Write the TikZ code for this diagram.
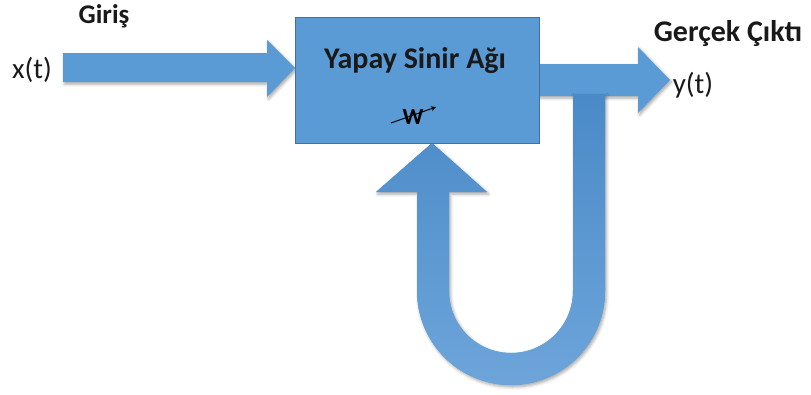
\documentclass[tikz,border=0pt]{standalone}
\usepackage{fontspec}
\setmainfont{Carlito}
\usetikzlibrary{shadows.blur,arrows.meta}
\definecolor{blockblue}{HTML}{5B9BD5}
\definecolor{blockedge}{HTML}{41719C}
\definecolor{loopdark}{HTML}{4A8AC8}
\definecolor{looplight}{HTML}{6DA5DA}
\tikzset{
  blockarrow/.style={fill=blockblue, draw=none,
    blur shadow={shadow xshift=1.5pt, shadow yshift=-2pt, shadow opacity=35, shadow blur radius=3pt}},
  netbox/.style={draw=blockedge, line width=0.8pt, fill=blockblue,
    minimum width=244pt, minimum height=126pt, inner sep=0pt},
  label/.style={font=\fontsize{27}{29}\selectfont\bfseries, text=black!90, inner sep=0pt},
  signal/.style={font=\fontsize{29}{31}\selectfont, text=black!90, inner sep=0pt}
}
\begin{document}
\begin{tikzpicture}[x=1pt, y=-1pt]
  \useasboundingbox (0,0) rectangle (811,394);

  % input arrow
  \fill[blockarrow] (63,53) -- (267,53) -- (267,40) -- (295,68) -- (267,97) -- (267,82) -- (63,82) -- cycle;

  % output arrow
  \fill[blockarrow] (530,64) -- (638,64) -- (638,47) -- (670,80) -- (638,113) -- (638,96) -- (530,96) -- cycle;

  % feedback loop arrow
  \fill[blockarrow, top color=loopdark, bottom color=looplight]
    (573,94) -- (573,291) arc[start angle=0, end angle=180, radius=62]
    -- (449,192) -- (487,192) -- (432,143) -- (376,192) -- (417,192)
    -- (417,291) arc[start angle=180, end angle=0, radius=94]
    -- (605,94) -- cycle;

  % network block
  \node[netbox] (net) at (417.5,80) {};
  \node[label, font=\fontsize{30}{32}\selectfont\bfseries] (title) at (415,61) {Yapay Sinir Ağı};
  % weight symbol: arrow behind the W
  \coordinate (wtail) at (391,123);
  \coordinate (whead) at (436,107);
  \draw[line width=1pt, -{Stealth[length=5pt,width=5pt]}] (wtail) -- (whead);
  \node[font=\fontsize{23}{25}\selectfont\bfseries, inner sep=0pt] (w) at (413,117) {W};

  % labels
  \node[label] (in) at (104,16) {Giriş};
  \node[signal] (x) at (32,70) {x(t)};
  \node[label, font=\fontsize{30}{32}\selectfont\bfseries] (out) at (728,33) {Gerçek Çıktı};
  \node[signal] (y) at (693,85) {y(t)};
\end{tikzpicture}
\end{document}
